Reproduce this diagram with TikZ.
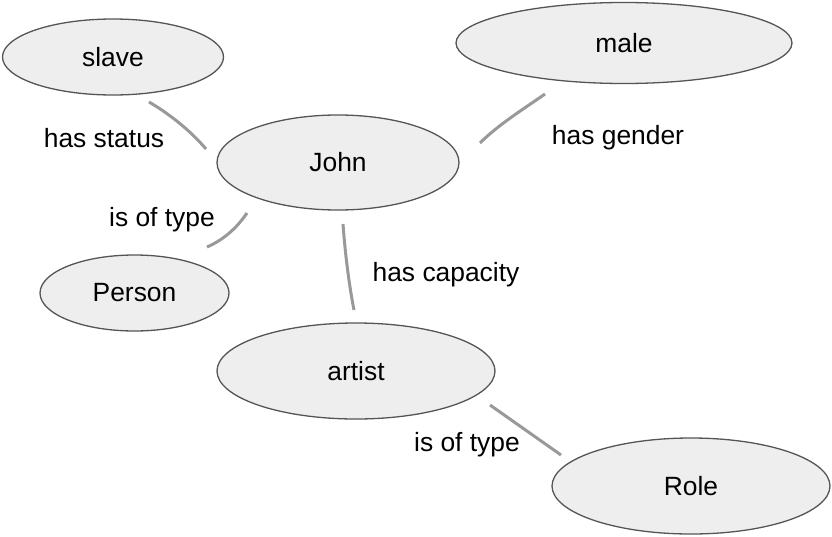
\documentclass[tikz,border=0pt]{standalone}
\usepackage{fontspec}
\setmainfont{Liberation Sans}
\usetikzlibrary{shapes.geometric}
\definecolor{nodefill}{HTML}{EEEEEE}
\definecolor{nodeline}{HTML}{555555}
\definecolor{edgecol}{HTML}{999999}
\begin{document}
\begin{tikzpicture}[x=1pt,y=-1pt,
  concept/.style={ellipse,draw=nodeline,fill=nodefill,line width=1.3pt,inner sep=0pt,font=\fontsize{26.4}{30}\selectfont},
  rel/.style={draw=edgecol,line width=3pt},
  lbl/.style={font=\fontsize{26.4}{30}\selectfont,inner sep=0pt}]
\useasboundingbox (0,0) rectangle (832,536);
\node[concept,minimum width=221pt,minimum height=76pt] (slave) at (113,57) {slave};
\node[concept,minimum width=336pt,minimum height=81pt] (male) at (624,43) {male};
\node[concept,minimum width=242pt,minimum height=95pt] (john) at (338,162.5) {John};
\node[concept,minimum width=189pt,minimum height=76pt] (person) at (134.5,293) {Person};
\node[concept,minimum width=278pt,minimum height=96pt] (artist) at (356,371) {artist};
\node[concept,minimum width=278pt,minimum height=96pt] (role) at (691,486) {Role};
\coordinate (s1) at (149,102);
\coordinate (s2) at (206,149);
\coordinate (m1) at (545,94);
\coordinate (m2) at (480,143);
\coordinate (p1) at (247,213);
\coordinate (p2) at (207,247);
\coordinate (a1) at (343,224);
\coordinate (a2) at (354,310);
\coordinate (r1) at (490,405);
\coordinate (r2) at (561,455);
\draw[rel] (s1) .. controls (168,113) and (190,130) .. (s2);
\draw[rel] (m1) .. controls (522,110) and (498,125) .. (m2);
\draw[rel] (p1) .. controls (236,229) and (223,240) .. (p2);
\draw[rel] (a1) .. controls (345,252) and (349,285) .. (a2);
\draw[rel] (r1) -- (r2);
\node[lbl] (l1) at (104,138) {has status};
\node[lbl] (l2) at (618,138) {has gender};
\node[lbl] (l3) at (162,220) {is of type};
\node[lbl] (l4) at (446,275) {has capacity};
\node[lbl] (l5) at (467,445) {is of type};
\end{tikzpicture}
\end{document}
